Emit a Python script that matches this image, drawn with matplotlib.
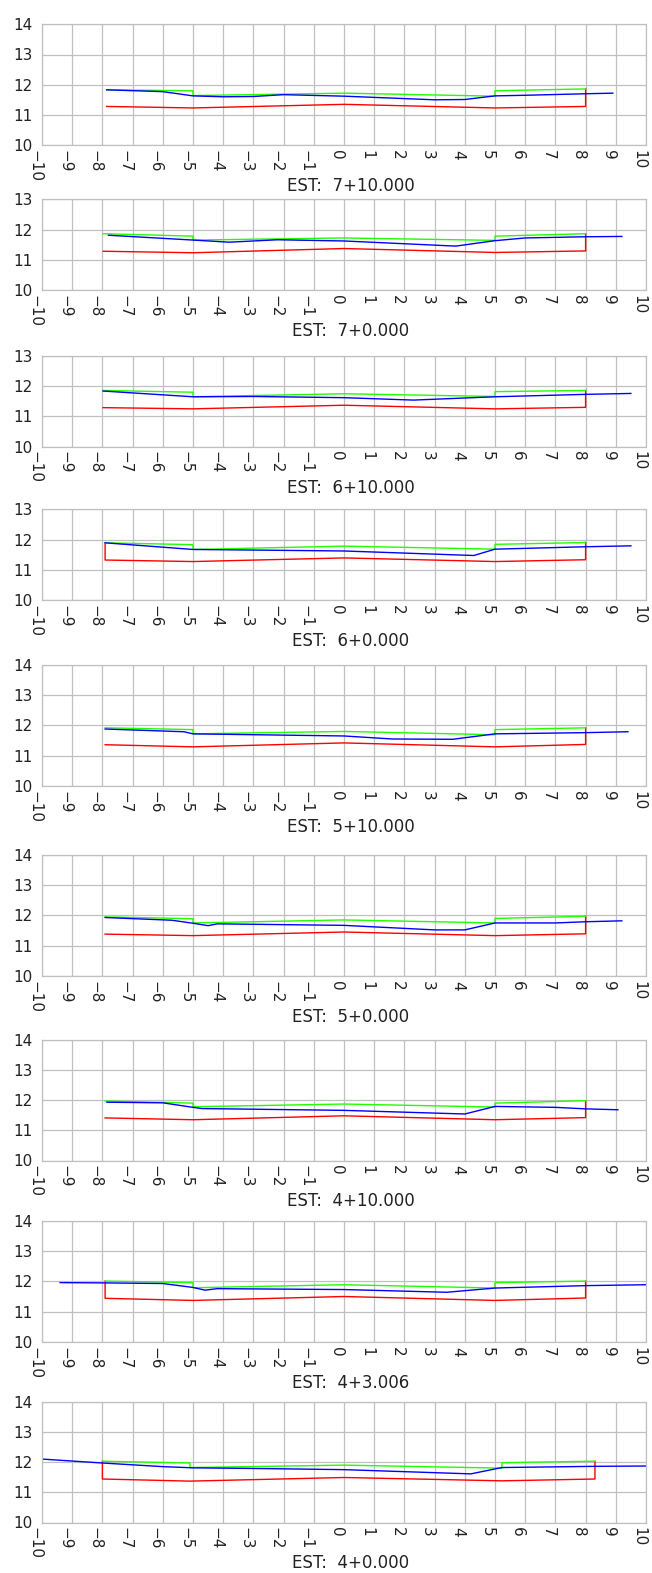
import numpy as np
import matplotlib
matplotlib.use("Agg")
import matplotlib.pyplot as plt
from matplotlib.transforms import blended_transform_factory

# Secciones transversales: una por estación
stations = ["7+10.000", "7+0.000", "6+10.000", "6+0.000", "5+10.000",
            "5+0.000", "4+10.000", "4+3.006", "4+0.000"]
y_top = [14, 13, 13, 13, 14, 14, 14, 14, 14]

# Subrasante (rojo)
red_x = [
    [-7.86, -5, 0, 5, 8, 8],
    [-7.97, -5, 0, 5, 8, 8],
    [-7.98, -5, 0, 5, 8, 8],
    [-7.91, -7.91, -5, 0, 5, 8, 8],
    [-7.91, -5, 0, 5, 8, 8],
    [-7.91, -5, 0, 5, 8, 8],
    [-7.91, -5, 0, 5, 8, 8],
    [-7.91, -7.91, -5, 0, 5, 8, 8],
    [-8.0, -8.0, -5.1, 0, 5.23, 8.31, 8.31],
]
red_y = [
    [11.28, 11.23, 11.35, 11.23, 11.28, 11.86],
    [11.28, 11.23, 11.37, 11.24, 11.29, 11.86],
    [11.29, 11.25, 11.37, 11.25, 11.30, 11.86],
    [11.89, 11.32, 11.27, 11.39, 11.27, 11.33, 11.90],
    [11.36, 11.29, 11.42, 11.29, 11.37, 11.92],
    [11.38, 11.33, 11.45, 11.33, 11.39, 11.97],
    [11.41, 11.35, 11.48, 11.35, 11.42, 11.98],
    [12.01, 11.44, 11.37, 11.50, 11.37, 11.45, 12.01],
    [12.03, 11.44, 11.37, 11.49, 11.38, 11.44, 12.03],
]

# Rasante / banquetas (verde)
green_x = [
    [-7.86, -5, -5, 0, 5, 5, 8],
    [-7.97, -5, -5, 0, 5, 5, 8],
    [-7.98, -5, -5, 0, 5, 5, 8],
    [-7.91, -5, -5, 0, 5, 5, 8],
    [-7.91, -5, -5, 0, 5, 5, 8],
    [-7.91, -5, -5, 0, 5, 5, 8],
    [-7.91, -5, -5, 0, 5, 5, 8],
    [-7.91, -5, -5, 0, 5, 5, 8],
    [-8.0, -5.1, -5.1, 0, 5.23, 5.23, 8.31],
]
green_y = [
    [11.83, 11.80, 11.64, 11.72, 11.62, 11.80, 11.86],
    [11.86, 11.78, 11.65, 11.72, 11.64, 11.78, 11.86],
    [11.86, 11.80, 11.65, 11.75, 11.66, 11.82, 11.86],
    [11.89, 11.83, 11.67, 11.78, 11.68, 11.84, 11.90],
    [11.92, 11.86, 11.72, 11.80, 11.69, 11.86, 11.92],
    [11.95, 11.89, 11.75, 11.85, 11.75, 11.90, 11.97],
    [11.97, 11.90, 11.78, 11.87, 11.77, 11.90, 11.98],
    [12.01, 11.96, 11.79, 11.89, 11.78, 11.96, 12.01],
    [12.03, 11.97, 11.82, 11.90, 11.80, 11.98, 12.03],
]

# Terreno natural (azul)
blue_x = [
    [-7.86, -6, -5, -4, -3, -2, 0, 3, 4, 5, 6, 8, 8.9],
    [-7.8, -5, -3.8, -2.2, 0, 3.7, 5, 6, 8, 9.2],
    [-7.98, -5, -3, 0, 2.3, 5, 8, 9.5],
    [-7.91, -5, 0, 4.3, 5, 8, 9.5],
    [-7.91, -5.3, -5, 0, 1.6, 3.6, 5, 8, 9.4],
    [-7.91, -5.7, -5, -4.5, -4.2, 0, 3, 4, 5, 7, 8, 9.2],
    [-7.85, -6, -5, -4.7, 0, 4, 5, 7, 8, 9.07],
    [-9.4, -7.9, -6, -5, -4.6, -4.2, 0, 3.4, 5, 8, 10],
    [-10, -8, -6, -5, -3, 0, 4.2, 5.23, 8.3, 10],
]
blue_y = [
    [11.83, 11.77, 11.63, 11.60, 11.61, 11.67, 11.62, 11.50, 11.51, 11.63, 11.65, 11.70, 11.72],
    [11.81, 11.65, 11.58, 11.66, 11.62, 11.45, 11.63, 11.72, 11.76, 11.77],
    [11.84, 11.65, 11.66, 11.62, 11.54, 11.65, 11.73, 11.76],
    [11.89, 11.67, 11.62, 11.47, 11.68, 11.76, 11.79],
    [11.88, 11.79, 11.72, 11.65, 11.55, 11.54, 11.72, 11.76, 11.79],
    [11.93, 11.84, 11.74, 11.66, 11.72, 11.67, 11.52, 11.52, 11.75, 11.75, 11.79, 11.82],
    [11.93, 11.91, 11.76, 11.72, 11.66, 11.54, 11.79, 11.76, 11.71, 11.68],
    [11.96, 11.95, 11.93, 11.80, 11.71, 11.76, 11.73, 11.64, 11.78, 11.86, 11.89],
    [12.10, 11.97, 11.85, 11.81, 11.79, 11.75, 11.61, 11.82, 11.86, 11.87],
]

x_ticks = np.arange(-10, 11)

# posiciones en pixeles (figura 652 x 1573)
W, H = 652, 1573
tops = [24.3, 199.3, 356, 509.3, 665, 855, 1039.7, 1221, 1401.7]
px_unit = 30.2
left_px, width_px = 42, 604
grid_col = "#c0c0c0"

fig = plt.figure(figsize=(W / 100, H / 100), dpi=100)

for i in range(len(stations)):
    h_px = (y_top[i] - 10) * px_unit
    ax = fig.add_axes([left_px / W, 1 - (tops[i] + h_px) / H, width_px / W, h_px / H])
    ax.plot(red_x[i], red_y[i], color="#ff0000", lw=1.0)
    ax.plot(green_x[i], green_y[i], color="#22ff00", lw=1.0)
    ax.plot(blue_x[i], blue_y[i], color="#0000ff", lw=1.0)

    ax.set_xlim(-10, 10)
    ax.set_ylim(10, y_top[i])
    ax.set_xticks(x_ticks)
    ax.set_yticks(np.arange(10, y_top[i] + 1))
    ax.grid(True, color=grid_col, lw=0.9)
    ax.set_axisbelow(True)
    for sp in ax.spines.values():
        sp.set_color(grid_col)
        sp.set_linewidth(0.9)
    ax.tick_params(length=0, labelsize=11, colors="#222222")
    ax.tick_params(axis="y", pad=7)
    ax.tick_params(axis="x", pad=3.5)
    plt.setp(ax.get_xticklabels(), rotation=-90, rotation_mode="anchor",
             ha="left", va="top")

    # título de la estación debajo de las etiquetas
    ax.text(351 / W, -41 / h_px, "EST:  " + stations[i],
            transform=blended_transform_factory(fig.transFigure, ax.transAxes),
            ha="center", va="center", fontsize=12, color="#222222")

fig.savefig("out.png", dpi=100)
